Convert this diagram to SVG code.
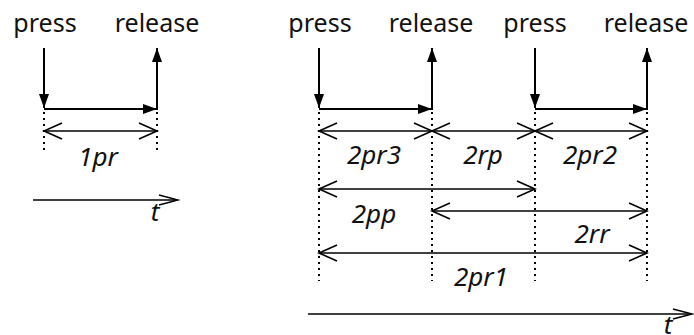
<svg xmlns="http://www.w3.org/2000/svg" width="694" height="335" viewBox="0 0 694 335">
<style>
.lbl{font-family:"Noto Sans","DejaVu Sans",sans-serif;font-size:25px;fill:#111;text-anchor:middle}
.it{font-family:"Noto Sans","DejaVu Sans",sans-serif;font-size:26px;font-style:italic;fill:#111;text-anchor:middle}
.ev{stroke:#000;stroke-width:2;fill:none}
.dim{stroke:#000;stroke-width:1.6;fill:none}
.dot{stroke:#000;stroke-width:2;stroke-dasharray:2 4;fill:none}
.ax{stroke:#000;stroke-width:1.4;fill:none}
</style>
<defs>
<marker id="fa" markerUnits="userSpaceOnUse" viewBox="-14 -5 14 10" refX="0" refY="0" markerWidth="14" markerHeight="10" orient="auto" overflow="visible">
<path d="M-14,-5 L0,0 L-14,5 z" fill="#000"/>
</marker>
<marker id="oa" markerUnits="userSpaceOnUse" viewBox="-19 -9 20 18" refX="0" refY="0" markerWidth="20" markerHeight="18" orient="auto-start-reverse" overflow="visible">
<path d="M-18,-8 L0,0 L-18,8" fill="none" stroke="#000" stroke-width="1.6"/>
</marker>
<marker id="ta" markerUnits="userSpaceOnUse" viewBox="-20 -6 21 12" refX="0" refY="0" markerWidth="21" markerHeight="12" orient="auto" overflow="visible">
<path d="M-19,-5 L0,0 L-19,5" fill="none" stroke="#000" stroke-width="1.4"/>
</marker>
</defs>

<g id="left">
<text class="lbl" x="45" y="32">press</text>
<text class="lbl" x="157" y="32">release</text>
<g id="left-connectors">
<line class="ev" x1="44" y1="48" x2="44" y2="108" marker-end="url(#fa)"/>
<line class="ev" x1="44" y1="109" x2="157" y2="109" marker-end="url(#fa)"/>
<line class="ev" x1="157" y1="110" x2="157" y2="48" marker-end="url(#fa)"/>
<line class="dot" x1="44" y1="112" x2="44" y2="154"/>
<line class="dot" x1="157" y1="112" x2="157" y2="154"/>
<line class="dim" x1="44" y1="131" x2="157" y2="131" marker-start="url(#oa)" marker-end="url(#oa)"/>
<line class="ax" x1="33" y1="200" x2="178" y2="200" marker-end="url(#ta)"/>
</g>
<text class="it" x="98" y="166">1pr</text>
<text class="it" x="155" y="221">t</text>
</g>

<g id="right">
<text class="lbl" x="320" y="32">press</text>
<text class="lbl" x="431" y="32">release</text>
<text class="lbl" x="535" y="32">press</text>
<text class="lbl" x="646" y="32">release</text>
<g id="right-connectors">
<line class="ev" x1="319" y1="48" x2="319" y2="108" marker-end="url(#fa)"/>
<line class="ev" x1="319" y1="109" x2="432" y2="109" marker-end="url(#fa)"/>
<line class="ev" x1="432" y1="110" x2="432" y2="48" marker-end="url(#fa)"/>
<line class="ev" x1="535" y1="48" x2="535" y2="108" marker-end="url(#fa)"/>
<line class="ev" x1="535" y1="109" x2="647" y2="109" marker-end="url(#fa)"/>
<line class="ev" x1="647" y1="110" x2="647" y2="48" marker-end="url(#fa)"/>
<line class="dot" x1="319" y1="112" x2="319" y2="281"/>
<line class="dot" x1="432" y1="112" x2="432" y2="281"/>
<line class="dot" x1="535" y1="112" x2="535" y2="281"/>
<line class="dot" x1="647" y1="112" x2="647" y2="281"/>
<line class="dim" x1="319" y1="131" x2="432" y2="131" marker-start="url(#oa)" marker-end="url(#oa)"/>
<line class="dim" x1="432" y1="131" x2="535" y2="131" marker-start="url(#oa)" marker-end="url(#oa)"/>
<line class="dim" x1="535" y1="131" x2="647" y2="131" marker-start="url(#oa)" marker-end="url(#oa)"/>
<line class="dim" x1="319" y1="189" x2="535" y2="189" marker-start="url(#oa)" marker-end="url(#oa)"/>
<line class="dim" x1="432" y1="211" x2="647" y2="211" marker-start="url(#oa)" marker-end="url(#oa)"/>
<line class="dim" x1="319" y1="253" x2="647" y2="253" marker-start="url(#oa)" marker-end="url(#oa)"/>
<line class="ax" x1="308" y1="314" x2="692" y2="314" marker-end="url(#ta)"/>
</g>
<text class="it" x="374" y="164">2pr3</text>
<text class="it" x="483" y="164">2rp</text>
<text class="it" x="590" y="164">2pr2</text>
<text class="it" x="374" y="223">2pp</text>
<text class="it" x="592" y="243">2rr</text>
<text class="it" x="481" y="286">2pr1</text>
<text class="it" x="668" y="334">t</text>
</g>
</svg>
